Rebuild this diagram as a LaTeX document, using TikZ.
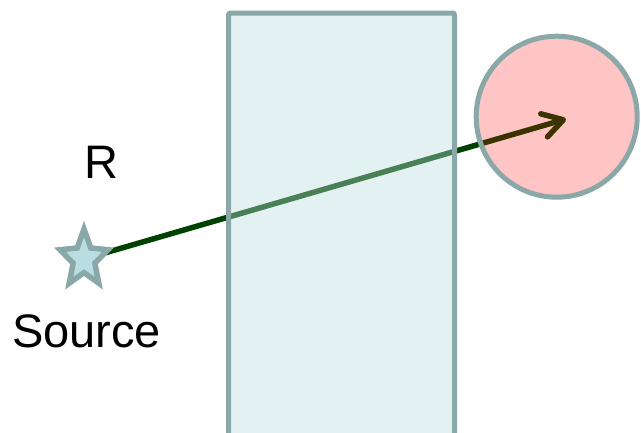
\documentclass[tikz,border=0pt]{standalone}
\usepackage{fontspec}
\setmainfont{Liberation Sans}
\usetikzlibrary{shapes.geometric,arrows.meta}
\pgfdeclarelayer{background}
\pgfsetlayers{background,main}
\definecolor{rand}{HTML}{8AA8A8}
\definecolor{quelle}{HTML}{B8DEE2}
\definecolor{strahl}{HTML}{004300}
\definecolor{platte}{RGB}{185,220,222}
\begin{document}
\begin{tikzpicture}[
      x=1pt, y=-1pt,
      font=\fontsize{47}{56}\selectfont,
      plattenbox/.style={draw=rand, line width=5pt, rounded corners=2pt, fill=platte, fill opacity=0.4, draw opacity=1, inner sep=0pt},
      ziel/.style={circle, draw=rand, line width=5pt, fill=red, fill opacity=0.23, draw opacity=1, inner sep=0pt, minimum size=161pt},
      stern/.style={star, star points=5, star point ratio=2.2, draw=rand, fill=quelle, line width=5.5pt, inner sep=0pt, minimum size=60pt},
      pfeil/.style={-{Straight Barb[length=20pt, width=24pt, round]}, line width=5.5pt, draw=strahl}
    ]
      \useasboundingbox (0,0) rectangle (641,432);
      \node[plattenbox, minimum width=226pt, minimum height=427pt] (platte) at (341.5,226.5) {};
      \node[ziel] (ziel) at (556.7,116.7) {};
      \begin{scope}[shift={(84,259)}, xscale=0.84]
        \node[stern, transform shape] (quelle) at (0,0) {};
      \end{scope}
      \coordinate (treffer) at (566,119);
      \node[anchor=base] (rlabel) at (101.5,178) {R};
      \node[anchor=base] (qlabel) at (86.5,347) {Source};
      \begin{pgfonlayer}{background}
        \draw[pfeil] (quelle.center) -- (treffer);
      \end{pgfonlayer}
    \end{tikzpicture}
\end{document}
